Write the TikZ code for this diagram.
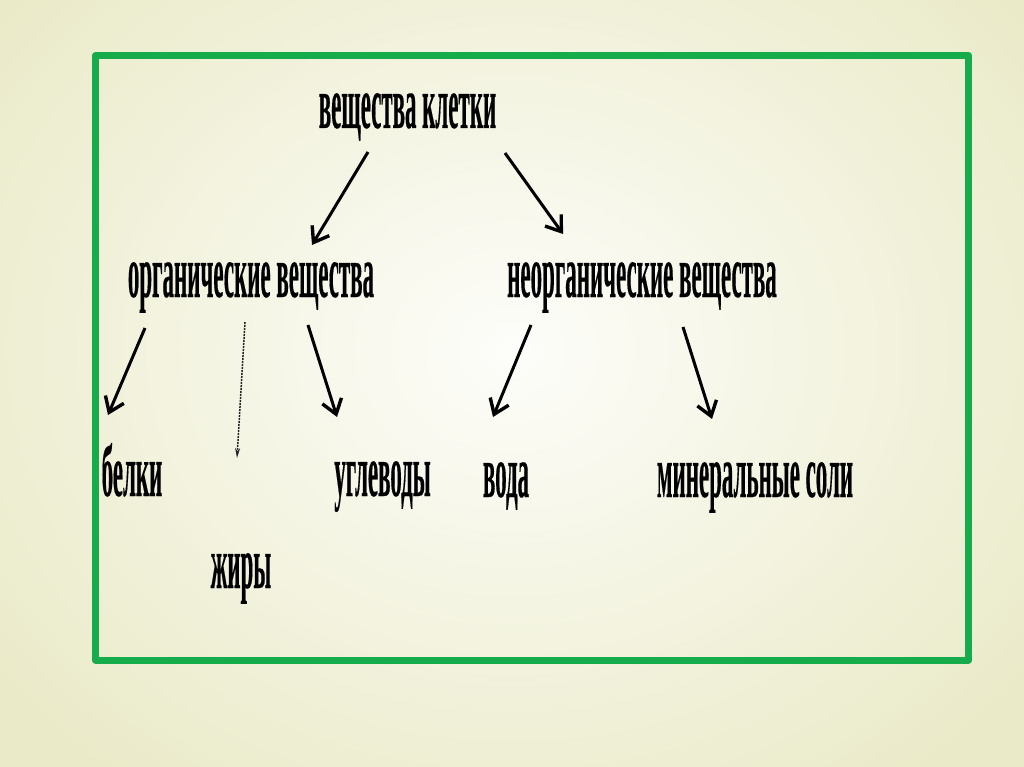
\documentclass[tikz,border=0pt]{standalone}
\usepackage{fontspec}
\usetikzlibrary{arrows.meta}
\newfontfamily\cond{Liberation Serif}[FakeStretch=0.31,FakeBold=0.2]
\definecolor{frame}{RGB}{22,172,76}
\definecolor{paper}{RGB}{234,234,200}
\definecolor{paperc}{RGB}{253,253,250}
\tikzset{
  lbl/.style={anchor=base,inner sep=0pt,font=\cond\bfseries\fontsize{74}{74}\selectfont},
  arr/.style={line width=3pt,-{Straight Barb[length=14pt,width=20pt,line width=3.4pt]}},
  thin arr/.style={line width=1.5pt,dash pattern=on 2pt off 1pt,black!85,-{Stealth[length=10pt,width=5pt]}}
}
\begin{document}
\begin{tikzpicture}[x=1pt,y=-1pt]
	\useasboundingbox (0,0) rectangle (1024,767);
	\shade[outer color=paper,inner color=paperc] (-150,-200) rectangle (1174,900);
	\draw [frame,line width=7pt,line join=round] (95.5,55.5) rectangle (968.5,660);

	\node[lbl] (cell) at (407.5,128) {вещества клетки};
	\node[lbl] (org) at (251,297) {органические вещества};
	\node[lbl] (inorg) at (642,297) {неорганические вещества};
	\node[lbl] (prot) at (132,496) {белки};
	\node[lbl] (carb) at (382.5,496) {углеводы};
	\node[lbl] (fat) at (241,588) {жиры};
	\node[lbl] (water) at (506,497) {вода};
	\node[lbl] (salt) at (755,497) {минеральные соли};

	\coordinate (c1) at (368,152);
	\coordinate (c2) at (505,153);
	\coordinate (o1) at (145,328);
	\coordinate (o2) at (245,322);
	\coordinate (o3) at (308,325);
	\coordinate (i1) at (531,325);
	\coordinate (i2) at (683,327);
	\coordinate (e1) at (312,245);
	\coordinate (e2) at (563,234);
	\coordinate (p1) at (108,415);
	\coordinate (f1) at (237,458);
	\coordinate (u1) at (337,417);
	\coordinate (w1) at (493,417);
	\coordinate (s1) at (712,419);

	\draw [arr] (c1) -- (e1);
	\draw [arr] (c2) -- (e2);
	\draw [arr] (o1) -- (p1);
	\draw [thin arr] (o2) -- (f1);
	\draw [arr] (o3) -- (u1);
	\draw [arr] (i1) -- (w1);
	\draw [arr] (i2) -- (s1);
\end{tikzpicture}
\end{document}
